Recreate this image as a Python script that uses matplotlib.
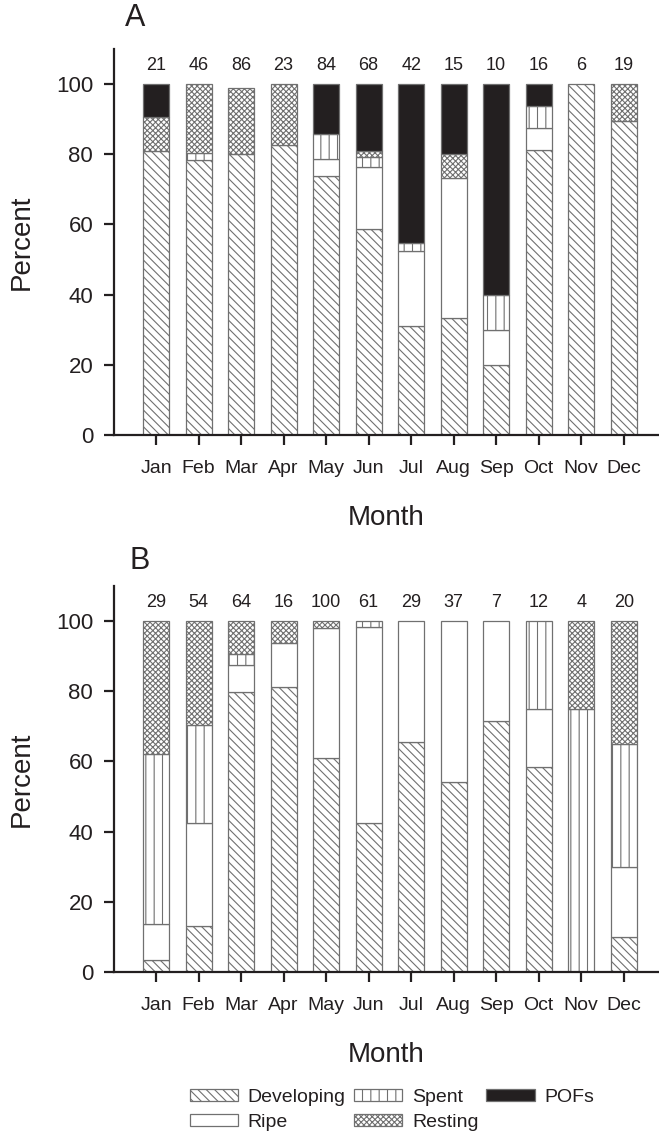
import numpy as np
import matplotlib
matplotlib.use('Agg')
import matplotlib.pyplot as plt
from matplotlib.patches import Patch

plt.rcParams['font.family'] = ['Liberation Sans', 'DejaVu Sans']
plt.rcParams['hatch.linewidth'] = 0.8
plt.rcParams['text.color'] = '#231f20'

months = ['Jan', 'Feb', 'Mar', 'Apr', 'May', 'Jun', 'Jul', 'Aug', 'Sep', 'Oct', 'Nov', 'Dec']
stages = ['Developing', 'Ripe', 'Spent', 'Resting', 'POFs']

# panel A (percent per stage)
dev_a = [81.0, 78.3, 80.2, 82.6, 73.8, 58.8, 31.0, 33.3, 20.0, 81.3, 100.0, 89.5]
ripe_a = [0, 0, 0, 0, 4.8, 17.6, 21.4, 40.0, 10.0, 6.2, 0, 0]
spent_a = [0, 2.2, 0, 0, 7.1, 2.9, 2.4, 0, 10.0, 6.2, 0, 0]
rest_a = [9.5, 19.5, 18.6, 17.4, 0, 1.5, 0, 6.7, 0, 0, 0, 10.5]
pof_a = [9.5, 0, 0, 0, 14.3, 19.2, 45.2, 20.0, 60.0, 6.3, 0, 0]
n_a = [21, 46, 86, 23, 84, 68, 42, 15, 10, 16, 6, 19]

# panel B
dev_b = [3.4, 13.0, 79.7, 81.3, 61.0, 42.6, 65.5, 54.1, 71.4, 58.3, 0, 10.0]
ripe_b = [10.3, 29.6, 7.8, 12.5, 37.0, 55.8, 34.5, 45.9, 28.6, 16.7, 0, 20.0]
spent_b = [48.3, 27.8, 3.1, 0, 0, 1.6, 0, 0, 0, 25.0, 75.0, 35.0]
rest_b = [38.0, 29.6, 9.4, 6.2, 2.0, 0, 0, 0, 0, 0, 25.0, 35.0]
pof_b = [0] * 12
n_b = [29, 54, 64, 16, 100, 61, 29, 37, 7, 12, 4, 20]

dark = '#231f20'
edge = '#707070'
styles = {
    'Developing': dict(facecolor='white', hatch='\\' * 4),
    'Ripe': dict(facecolor='white', hatch=''),
    'Spent': dict(facecolor='white', hatch='||'),
    'Resting': dict(facecolor='white', hatch='x' * 6),
    'POFs': dict(facecolor=dark, hatch=''),
}

fig = plt.figure(figsize=(6.59, 11.33), dpi=100)
ax_a = fig.add_axes([114 / 659, 1 - 435 / 1133, 545 / 659, 386 / 1133])
ax_b = fig.add_axes([114 / 659, 1 - 972 / 1133, 545 / 659, 386 / 1133])


def panel(ax, series, counts):
    x = np.arange(len(months))
    bottom = np.zeros(len(months))
    for name, vals in zip(stages, series):
        vals = np.array(vals, dtype=float)
        m = vals > 0
        ax.bar(x[m], vals[m], bottom=bottom[m], width=0.61, edgecolor=edge,
               linewidth=0.9, **styles[name])
        bottom += vals
    for xi, n in zip(x, counts):
        ax.text(xi, 104, str(n), ha='center', va='baseline', fontsize=13)
    ax.set_xlim(-0.99, 11.83)
    ax.set_ylim(0, 110)
    ax.set_yticks(range(0, 101, 20))
    ax.set_xticks(x)
    ax.set_xticklabels(months)
    for s in ['top', 'right']:
        ax.spines[s].set_visible(False)
    for s in ['left', 'bottom']:
        ax.spines[s].set_linewidth(1.6)
        ax.spines[s].set_color(dark)
    ax.tick_params(axis='y', length=7, width=1.6, pad=8, labelsize=16, colors=dark)
    ax.tick_params(axis='x', length=7, width=1.6, pad=11, labelsize=14, colors=dark)
    ax.set_ylabel('Percent', fontsize=20, labelpad=15, color=dark)
    ax.set_xlabel('Month', fontsize=20, labelpad=20, color=dark)


panel(ax_a, [dev_a, ripe_a, spent_a, rest_a, pof_a], n_a)
panel(ax_b, [dev_b, ripe_b, spent_b, rest_b, pof_b], n_b)

fig.text(135 / 659, 1 - 18 / 1133, 'A', ha='center', va='center', fontsize=22)
fig.text(140 / 659, 1 - 561 / 1133, 'B', ha='center', va='center', fontsize=22)

handles = [Patch(edgecolor=edge, linewidth=0.9, **styles[s]) for s in stages]
fig.legend(handles, stages, loc='center', bbox_to_anchor=(392 / 659, 1 - 1110 / 1133),
           ncol=3, frameon=False, fontsize=14, handlelength=2.5, handleheight=0.6,
           handletextpad=0.5, columnspacing=0.4, labelspacing=0.4)

fig.savefig('out.png', dpi=100)
